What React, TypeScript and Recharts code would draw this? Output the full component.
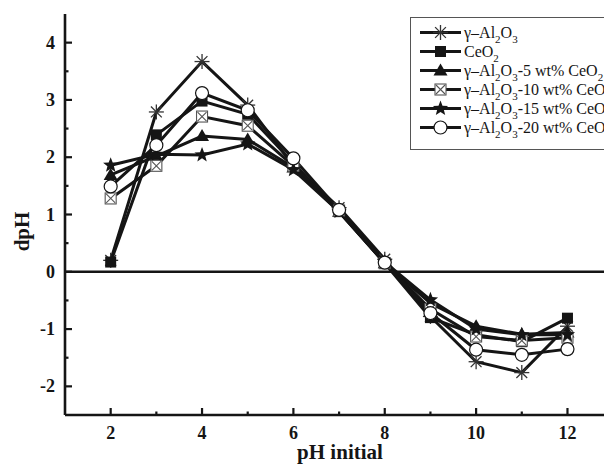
import React from 'react';
import { LineChart, Line, XAxis, YAxis, ReferenceLine, Legend } from 'recharts';

// initial pH of each run
const phInitial = [2, 3, 4, 5, 6, 7, 8, 9, 10, 11, 12];

// dpH, one array per sample
const alumina = [0.2, 2.79, 3.67, 2.91, 1.85, 1.12, 0.22, -0.78, -1.57, -1.76, -0.95];
const ceria = [0.17, 2.39, 2.98, 2.75, 1.9, 1.05, 0.15, -0.8, -1.1, -1.22, -0.81];
const ce5 = [1.69, 2.02, 2.37, 2.31, 1.82, 1.05, 0.15, -0.55, -0.95, -1.09, -1.06];
const ce10 = [1.28, 1.85, 2.71, 2.55, 1.85, 1.07, 0.15, -0.65, -1.13, -1.2, -1.15];
const ce15 = [1.86, 2.05, 2.04, 2.23, 1.78, 1.05, 0.17, -0.49, -1.0, -1.1, -1.1];
const ce20 = [1.49, 2.21, 3.12, 2.82, 1.98, 1.08, 0.16, -0.72, -1.36, -1.45, -1.35];

const xTicks = [2, 3, 4, 5, 6, 7, 8, 9, 10, 11, 12];
const yTicks = [-2, -1.5, -1, -0.5, 0, 0.5, 1, 1.5, 2, 2.5, 3, 3.5, 4];

const SERIES = [
  { key: 'alumina', name: 'γ–Al2O3', shape: 'asterisk', values: alumina },
  { key: 'ceria', name: 'CeO2', shape: 'square', values: ceria },
  { key: 'ce5', name: 'γ–Al2O3-5 wt% CeO2', shape: 'triangle', values: ce5 },
  { key: 'ce10', name: 'γ–Al2O3-10 wt% CeO2', shape: 'boxx', values: ce10 },
  { key: 'ce15', name: 'γ–Al2O3-15 wt% CeO2', shape: 'star', values: ce15 },
  { key: 'ce20', name: 'γ–Al2O3-20 wt% CeO2', shape: 'circle', values: ce20 },
];

const data = phInitial.map((ph, i) => {
  const row: any = { ph };
  SERIES.forEach((s) => { row[s.key] = s.values[i]; });
  return row;
});

const FONT = '"Liberation Serif", "Times New Roman", serif';
const INK = '#151515';

const starPoints = (cx: number, cy: number, ro: number, ri: number) => {
  const pts: string[] = [];
  for (let i = 0; i < 10; i++) {
    const r = i % 2 === 0 ? ro : ri;
    const a = -Math.PI / 2 + (i * Math.PI) / 5;
    pts.push(`${cx + r * Math.cos(a)},${cy + r * Math.sin(a)}`);
  }
  return pts.join(' ');
};

const Marker = ({ shape, cx, cy }: { shape: string; cx: number; cy: number }) => {
  if (cx == null || cy == null) return null;
  switch (shape) {
    case 'asterisk': {
      const r = 7.5, d = r * 0.72;
      return (
        <g stroke="#333" strokeWidth={1.3}>
          <line x1={cx - r} y1={cy} x2={cx + r} y2={cy} />
          <line x1={cx} y1={cy - r} x2={cx} y2={cy + r} />
          <line x1={cx - d} y1={cy - d} x2={cx + d} y2={cy + d} />
          <line x1={cx - d} y1={cy + d} x2={cx + d} y2={cy - d} />
        </g>
      );
    }
    case 'square':
      return <rect x={cx - 5.5} y={cy - 5.5} width={11} height={11} fill={INK} />;
    case 'triangle':
      return <polygon points={`${cx},${cy - 7} ${cx + 7},${cy + 5} ${cx - 7},${cy + 5}`} fill={INK} />;
    case 'boxx':
      return (
        <g stroke="#555" strokeWidth={1.1} fill="#fff">
          <rect x={cx - 5.5} y={cy - 5.5} width={11} height={11} />
          <line x1={cx - 4.5} y1={cy - 4.5} x2={cx + 4.5} y2={cy + 4.5} />
          <line x1={cx - 4.5} y1={cy + 4.5} x2={cx + 4.5} y2={cy - 4.5} />
        </g>
      );
    case 'star':
      return <polygon points={starPoints(cx, cy, 8, 3.4)} fill={INK} />;
    case 'circle':
      return <circle cx={cx} cy={cy} r={6.5} fill="#fff" stroke={INK} strokeWidth={1.2} />;
    default:
      return null;
  }
};

// digits right after a letter become subscripts (Al2O3, CeO2)
const chem = (txt: string) =>
  txt.split('').map((ch, i) => {
    const prev = txt[i - 1];
    if (/[0-9]/.test(ch) && prev && /[A-Za-z]/.test(prev)) {
      return (
        <sub key={i} style={{ fontSize: 11, verticalAlign: '-5px', lineHeight: 0 }}>{ch}</sub>
      );
    }
    return <span key={i}>{ch}</span>;
  });

const LegendBox = () => (
  <div
    style={{
      border: '1.5px solid #555', background: '#fff', padding: '5px 8px 12px 9px',
      fontFamily: FONT, fontSize: 16, color: INK, whiteSpace: 'nowrap', width: 230,
    }}
  >
    {SERIES.map((s) => (
      <div key={s.key} style={{ height: 19, display: 'flex', alignItems: 'center' }}>
        <svg width={41} height={19} style={{ flex: 'none' }}>
          <line x1={0} y1={9.5} x2={41} y2={9.5} stroke={INK} strokeWidth={3} />
          <Marker shape={s.shape} cx={20.5} cy={9.5} />
        </svg>
        <span style={{ marginLeft: 3 }}>{chem(s.name)}</span>
      </div>
    ))}
  </div>
);

const XTick = ({ x, y, payload }: any) => {
  const major = payload.value % 2 === 0;
  return (
    <g>
      <line x1={x} x2={x} y1={y} y2={y - (major ? 7 : 3.5)} stroke={INK} strokeWidth={2.2} />
      {major && (
        <text x={x} y={y + 24} textAnchor="middle" fontFamily={FONT} fontWeight="bold" fontSize={18} fill={INK}>
          {payload.value}
        </text>
      )}
    </g>
  );
};

const YTick = ({ x, y, payload }: any) => {
  const major = Number.isInteger(payload.value);
  return (
    <g>
      <line x1={x} x2={x + (major ? 7 : 3.5)} y1={y} y2={y} stroke={INK} strokeWidth={2.2} />
      {major && (
        <text x={x - 10} y={y + 6} textAnchor="end" fontFamily={FONT} fontWeight="bold" fontSize={18} fill={INK}>
          {String(payload.value)}
        </text>
      )}
    </g>
  );
};

// the source figure is cropped on the right; the plot frame runs past the window edge
const App = () => (
  <div style={{ position: 'absolute', left: 0, top: 0, width: 604, height: 469, overflow: 'hidden', background: '#fff' }}>
    <LineChart width={620} height={469} data={data} margin={{ top: 14, right: 0, left: 0, bottom: 0 }}>
      <XAxis
        dataKey="ph"
        type="number"
        domain={[1, 13.15]}
        ticks={xTicks}
        interval={0}
        height={54}
        tickLine={false}
        tickSize={0}
        tickMargin={0}
        tick={<XTick />}
        axisLine={{ stroke: INK, strokeWidth: 2.6 }}
        label={{
          content: ({ viewBox }: any) => (
            <text
              x={viewBox.x + 275}
              y={viewBox.y + 44}
              textAnchor="middle"
              fontFamily={FONT}
              fontWeight="bold"
              fontSize={21}
              fill={INK}
            >
              pH initial
            </text>
          ),
        }}
      />
      <XAxis xAxisId="top" orientation="top" type="number" domain={[1, 13.15]} height={0} tick={false} tickLine={false} axisLine={{ stroke: INK, strokeWidth: 2.6 }} />
      <YAxis
        type="number"
        domain={[-2.5, 4.5]}
        ticks={yTicks}
        interval={0}
        width={65}
        tickLine={false}
        tickSize={0}
        tickMargin={0}
        tick={<YTick />}
        axisLine={{ stroke: INK, strokeWidth: 2.6 }}
        label={{
          content: ({ viewBox }: any) => {
            const x = 29;
            const y = viewBox.y + viewBox.height / 2 + 17;
            return (
              <text
                x={x}
                y={y}
                transform={`rotate(-90 ${x} ${y})`}
                textAnchor="middle"
                fontFamily={FONT}
                fontWeight="bold"
                fontSize={21}
                fill={INK}
              >
                dpH
              </text>
            );
          },
        }}
      />
      <ReferenceLine y={0} stroke={INK} strokeWidth={2.4} />
      {SERIES.map((s) => (
        <Line
          key={s.key}
          dataKey={s.key}
          name={s.name}
          type="linear"
          stroke={INK}
          strokeWidth={3}
          isAnimationActive={false}
          dot={(p: any) => <Marker key={`${s.key}-${p.index}`} shape={s.shape} cx={p.cx} cy={p.cy} />}
          activeDot={false}
        />
      ))}
      <Legend
        layout="vertical"
        align="center"
        verticalAlign="middle"
        content={() => <LegendBox />}
        wrapperStyle={{ position: 'absolute', left: 410, top: 17, width: 'auto', height: 'auto' }}
      />
    </LineChart>
  </div>
);

export default App;
